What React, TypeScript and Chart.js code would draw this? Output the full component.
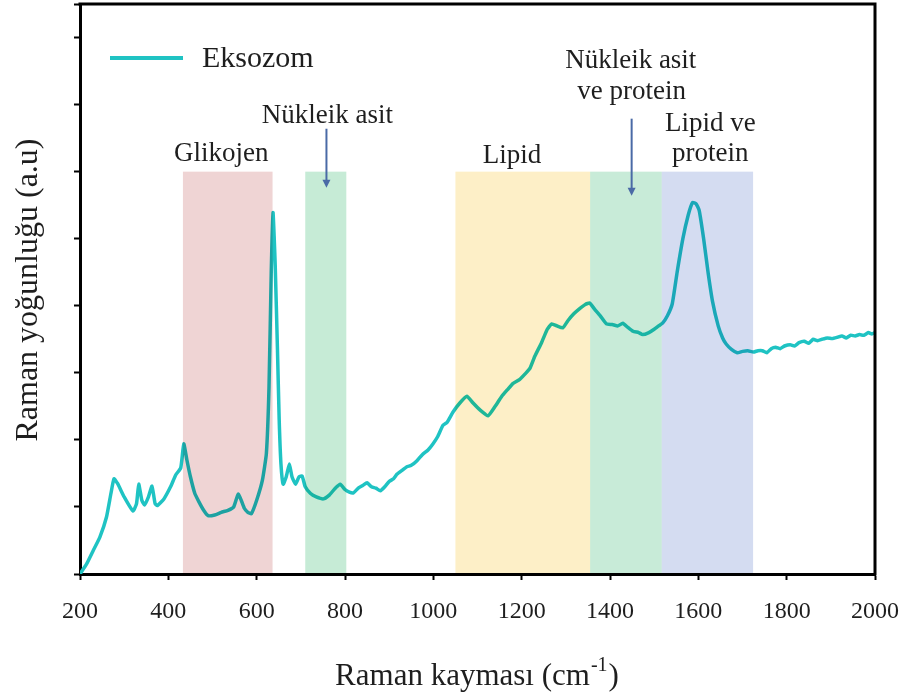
import React, { useEffect, useRef } from "react";
import { Chart, registerables } from "chart.js";

Chart.register(...registerables);

// Spectrum (Raman shift in cm-1, intensity in a.u.)
const ramanShift = [
  200, 215, 230, 245, 260, 270, 277, 285, 300, 320, 328, 333, 340, 346, 355, 363, 370, 375, 390, 405,
  417, 428, 435, 442, 450, 460, 469, 480, 490, 505, 520, 535, 548, 558, 565, 572, 580, 588, 600, 613,
  622, 628, 633, 637, 642, 647, 651, 655, 660, 667, 674, 680, 688, 696, 703, 710, 722, 735, 751, 765,
  778, 789, 800, 810, 819, 830, 840, 850, 860, 870, 880, 890, 900, 910, 918, 930, 940, 950, 963, 975,
  988, 999, 1010, 1022, 1031, 1045, 1060, 1076, 1090, 1105, 1124, 1140, 1155, 1168, 1180, 1195, 1210, 1219, 1230, 1245,
  1258, 1268, 1280, 1293, 1305, 1318, 1330, 1344, 1354, 1365, 1378, 1392, 1405, 1418, 1429, 1440, 1452, 1465, 1474, 1488,
  1500, 1510, 1519, 1530, 1541, 1552, 1565, 1577, 1587, 1595, 1602, 1612, 1622, 1632, 1645, 1655, 1663, 1675, 1688, 1700,
  1712, 1725, 1735, 1745, 1755, 1765, 1775, 1785, 1795, 1808, 1818, 1828, 1840, 1850, 1860, 1870, 1880, 1892, 1903, 1915,
  1925, 1935, 1945, 1955, 1965, 1975, 1985, 1993, 2000,
];
const intensity = [
  0.0, 0.15, 0.35, 0.55, 0.85, 1.2, 1.42, 1.35, 1.15, 0.94, 1.05, 1.34, 1.1, 1.03, 1.15, 1.31, 1.05, 1.02, 1.12, 1.3,
  1.48, 1.58, 1.94, 1.7, 1.45, 1.2, 1.08, 0.95, 0.87, 0.88, 0.92, 0.95, 1.0, 1.19, 1.1, 0.98, 0.92, 0.9, 1.1, 1.4,
  1.8, 2.8, 4.5, 5.39, 4.6, 3.37, 2.3, 1.64, 1.34, 1.45, 1.64, 1.45, 1.34, 1.45, 1.46, 1.3, 1.2, 1.15, 1.12, 1.18,
  1.28, 1.34, 1.26, 1.22, 1.21, 1.28, 1.32, 1.36, 1.3, 1.28, 1.24, 1.3, 1.38, 1.42, 1.49, 1.55, 1.6, 1.62, 1.69, 1.78,
  1.85, 1.94, 2.05, 2.22, 2.26, 2.42, 2.55, 2.65, 2.55, 2.45, 2.36, 2.5, 2.65, 2.75, 2.84, 2.9, 3.0, 3.07, 3.25, 3.45,
  3.65, 3.73, 3.7, 3.67, 3.78, 3.88, 3.95, 4.02, 4.04, 3.95, 3.85, 3.73, 3.72, 3.7, 3.74, 3.68, 3.62, 3.6, 3.57, 3.6,
  3.65, 3.7, 3.74, 3.85, 4.03, 4.5, 5.0, 5.35, 5.54, 5.52, 5.42, 5.0, 4.5, 4.07, 3.7, 3.52, 3.43, 3.35, 3.3, 3.32,
  3.33, 3.31, 3.33, 3.33, 3.3, 3.36, 3.38, 3.36, 3.4, 3.42, 3.4, 3.45, 3.47, 3.44, 3.5, 3.48, 3.5, 3.52, 3.51, 3.53,
  3.55, 3.52, 3.56, 3.55, 3.57, 3.56, 3.6, 3.58, 3.6,
];

const seriesName = "Eksozom";

// Highlighted spectral regions
const bandStart = [433, 710, 1050, 1355, 1517];
const bandEnd = [636, 803, 1355, 1517, 1724];
const bandTop = 6;
const bandColors = ["#efd4d4", "#c6ebd6", "#fdefc7", "#c8ebd8", "#d4dcf1"];

// Region labels (data coordinates)
const labelTexts = ["Glikojen", "Nükleik asit", "Lipid", "Nükleik asit", "ve protein", "Lipid ve", "protein"];
const labelX = [520, 760, 1178, 1447, 1449, 1627, 1627];
const labelY = [6.16, 6.73, 6.13, 7.54, 7.09, 6.61, 6.16];

// Arrows (data coordinates)
const arrowX = [758, 1449];
const arrowFrom = [6.64, 6.79];
const arrowTo = [5.76, 5.64];

const xTitleMain = "Raman kayması (cm";
const xTitleSup = "-1";
const xTitleEnd = ")";
const yTitle = "Raman yoğunluğu (a.u)";

const SERIF = "'Liberation Serif', 'Times New Roman', serif";
const LINE_COLOR = "#1fc3c3";
const TEXT_COLOR = "#1e1e1e";

const overlayPlugin = {
  id: "overlay",
  afterDatasetsDraw(chart: any) {
    const { ctx, scales } = chart;
    const x = scales.x;
    const y = scales.y;
    ctx.save();
    ctx.globalCompositeOperation = "multiply";
    for (let i = 0; i < bandStart.length; i++) {
      const x0 = x.getPixelForValue(bandStart[i]);
      const x1 = x.getPixelForValue(bandEnd[i]);
      const y0 = y.getPixelForValue(bandTop);
      const y1 = y.getPixelForValue(0);
      ctx.fillStyle = bandColors[i];
      ctx.fillRect(x0, y0, x1 - x0, y1 - y0);
    }
    ctx.restore();
  },
  afterDraw(chart: any) {
    const { ctx, chartArea, scales } = chart;
    const x = scales.x;
    const y = scales.y;
    ctx.save();
    // frame top & right
    ctx.strokeStyle = "#000";
    ctx.lineWidth = 3;
    ctx.beginPath();
    ctx.moveTo(chartArea.left - 1.5, chartArea.top);
    ctx.lineTo(chartArea.right, chartArea.top);
    ctx.lineTo(chartArea.right, chartArea.bottom + 1.5);
    ctx.stroke();

    // region labels
    ctx.fillStyle = TEXT_COLOR;
    ctx.font = `27px ${SERIF}`;
    ctx.textAlign = "center";
    ctx.textBaseline = "alphabetic";
    for (let i = 0; i < labelTexts.length; i++) {
      ctx.fillText(labelTexts[i], x.getPixelForValue(labelX[i]), y.getPixelForValue(labelY[i]));
    }

    // arrows
    ctx.strokeStyle = "#4a6aa6";
    ctx.fillStyle = "#4a6aa6";
    ctx.lineWidth = 2;
    for (let i = 0; i < arrowX.length; i++) {
      const ax = x.getPixelForValue(arrowX[i]);
      const ay0 = y.getPixelForValue(arrowFrom[i]);
      const ay1 = y.getPixelForValue(arrowTo[i]);
      ctx.beginPath();
      ctx.moveTo(ax, ay0);
      ctx.lineTo(ax, ay1 - 6);
      ctx.stroke();
      ctx.beginPath();
      ctx.moveTo(ax - 4, ay1 - 8);
      ctx.lineTo(ax + 4, ay1 - 8);
      ctx.lineTo(ax, ay1);
      ctx.closePath();
      ctx.fill();
    }

    // legend
    ctx.strokeStyle = LINE_COLOR;
    ctx.lineWidth = 4;
    ctx.beginPath();
    ctx.moveTo(110, 58);
    ctx.lineTo(183, 58);
    ctx.stroke();
    ctx.fillStyle = TEXT_COLOR;
    ctx.font = `30px ${SERIF}`;
    ctx.textAlign = "left";
    ctx.fillText(seriesName, 202, 67);

    // y title
    ctx.save();
    ctx.translate(37, 290);
    ctx.rotate(-Math.PI / 2);
    ctx.font = `32px ${SERIF}`;
    ctx.textAlign = "center";
    ctx.fillText(yTitle, 0, 0);
    ctx.restore();

    // x title with superscript
    ctx.font = `31px ${SERIF}`;
    const wMain = ctx.measureText(xTitleMain).width;
    const wEnd = ctx.measureText(xTitleEnd).width;
    ctx.font = `20px ${SERIF}`;
    const wSup = ctx.measureText(xTitleSup).width;
    const total = wMain + wSup + wEnd + 2;
    const cx = 477;
    let sx = cx - total / 2;
    const base = 685;
    ctx.textAlign = "left";
    ctx.font = `31px ${SERIF}`;
    ctx.fillText(xTitleMain, sx, base);
    sx += wMain + 1;
    ctx.font = `20px ${SERIF}`;
    ctx.fillText(xTitleSup, sx, base - 14);
    sx += wSup + 1;
    ctx.font = `31px ${SERIF}`;
    ctx.fillText(xTitleEnd, sx, base);
    ctx.restore();
  },
};

export default function App() {
  const canvasRef = useRef<HTMLCanvasElement | null>(null);

  useEffect(() => {
    const canvas = canvasRef.current;
    if (!canvas) return;
    const points = ramanShift.map((v, i) => ({ x: v, y: intensity[i] }));
    const chart = new Chart(canvas, {
      type: "line",
      data: {
        datasets: [
          {
            label: seriesName,
            data: points,
            borderColor: LINE_COLOR,
            borderWidth: 3.5,
            pointRadius: 0,
            tension: 0.15,
            fill: false,
          },
        ],
      },
      options: {
        responsive: false,
        animation: false,
        layout: { padding: { top: 4, right: 29, left: 0, bottom: 0 } },
        plugins: {
          legend: { display: false },
          tooltip: { enabled: false },
          title: { display: false },
        },
        scales: {
          x: {
            type: "linear",
            min: 200,
            max: 2000,
            afterFit: (s: any) => {
              s.height = 126;
              s.paddingLeft = 0;
              s.paddingRight = 0;
            },
            ticks: {
              stepSize: 200,
              color: TEXT_COLOR,
              font: { family: SERIF, size: 24 },
              padding: 17,
              maxRotation: 0,
              callback: (v: any) => String(v),
            },
            grid: {
              drawOnChartArea: false,
              drawTicks: true,
              tickLength: 6,
              tickWidth: 2,
              tickColor: "#000",
              color: "#000",
            },
            border: { display: true, color: "#000", width: 3 },
          },
          y: {
            type: "linear",
            min: 0,
            max: 8.5,
            afterFit: (s: any) => {
              s.width = 80;
              s.paddingTop = 0;
              s.paddingBottom = 0;
            },
            ticks: { stepSize: 1, display: false },
            grid: {
              drawOnChartArea: false,
              drawTicks: true,
              tickLength: 6,
              tickWidth: 2,
              tickColor: "#000",
              color: "#000",
            },
            border: { display: true, color: "#000", width: 3 },
          },
        },
      },
      plugins: [overlayPlugin],
    });
    return () => chart.destroy();
  }, []);

  return (
    <div style={{ position: "absolute", left: 0, top: 0, width: 904, height: 700, background: "#fff" }}>
      <canvas ref={canvasRef} width={904} height={700} style={{ width: 904, height: 700, display: "block" }} />
    </div>
  );
}
